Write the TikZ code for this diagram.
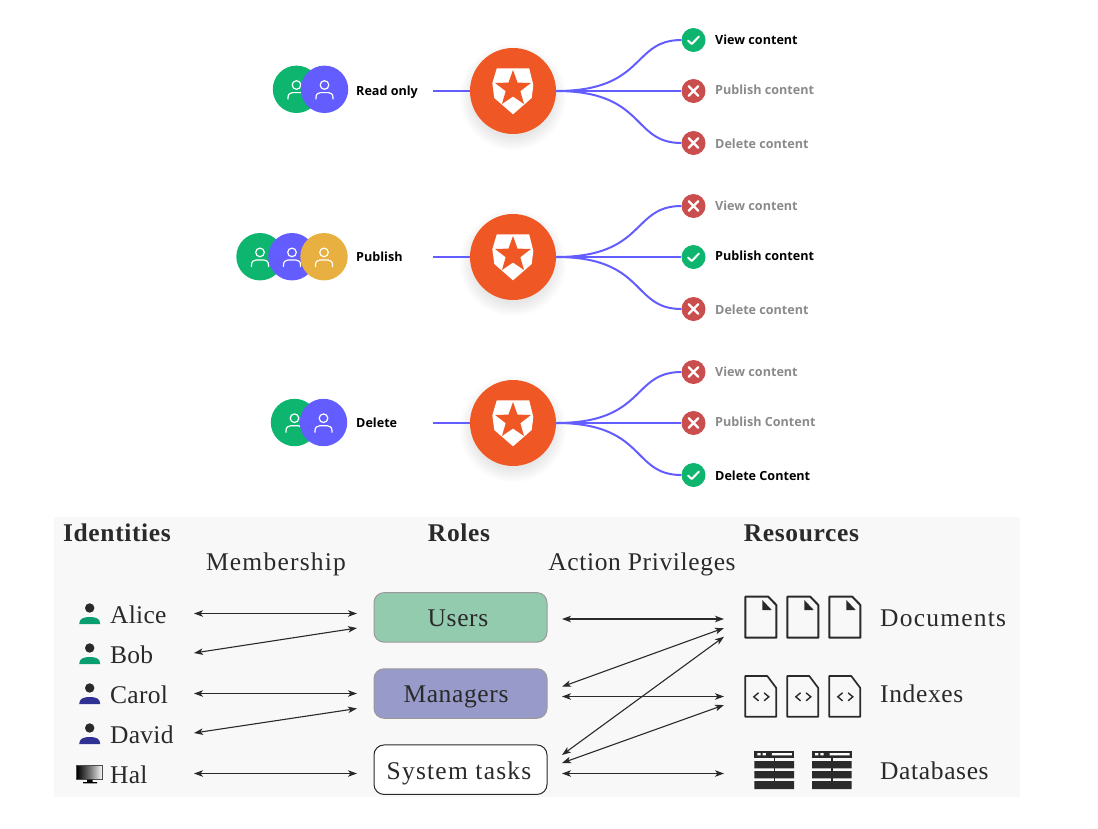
\documentclass[tikz,border=0pt]{standalone}
\usepackage{fontspec}
\usetikzlibrary{shapes.geometric,arrows.meta,shadings}
\newfontfamily\uifont{Open Sans}
\newfontfamily\serifA[LetterSpace=2.5]{Liberation Serif}
\newfontfamily\serifB[LetterSpace=4.8]{Liberation Serif}
\newfontfamily\serifC[LetterSpace=1]{Liberation Serif}
\definecolor{ogreen}{HTML}{0DB56F}
\definecolor{opurple}{HTML}{635DFF}
\definecolor{oorange}{HTML}{EF5725}
\definecolor{oyellow}{HTML}{E8B040}
\definecolor{ored}{HTML}{CB4E4E}
\definecolor{ogrey}{HTML}{8A8A8A}
\definecolor{panel}{HTML}{F8F8F8}
\definecolor{teal}{HTML}{089E70}
\definecolor{dblue}{HTML}{2E3192}
\definecolor{ink}{HTML}{2A2A2A}
\definecolor{usersfill}{HTML}{93CBAE}
\definecolor{mgrfill}{HTML}{989BC9}
\tikzset{
  avatar/.style={circle,inner sep=0pt,minimum size=47.4pt,fill=#1},
  hub/.style={circle,inner sep=0pt,minimum size=86pt,fill=oorange},
  flow/.style={draw=opurple,line width=2pt},
  mark/.style={circle,inner sep=0pt,minimum size=24pt,fill=#1},
  ontext/.style={anchor=base west,inner sep=0pt,font=\uifont\bfseries\fontsize{12.6}{15}\selectfont,text=black},
  offtext/.style={anchor=base west,inner sep=0pt,font=\uifont\bfseries\fontsize{12.6}{15}\selectfont,text=ogrey},
  sertext/.style={anchor=base,inner sep=0pt,font=\serifA\fontsize{25.5}{30}\selectfont,text=ink},
  wsertext/.style={sertext,font=\serifB\fontsize{25.5}{30}\selectfont},
  nsertext/.style={sertext,font=\serifC\fontsize{25.5}{30}\selectfont},
  hdtext/.style={anchor=base,inner sep=0pt,font=\serifA\bfseries\fontsize{25.5}{30}\selectfont,text=ink},
  rolebox/.style={draw=#1,rounded corners=10pt,line width=1pt,minimum width=173pt,minimum height=49.5pt,inner sep=0pt},
  link/.style={draw=ink,line width=1.1pt,{Stealth[length=9pt,width=6.5pt,inset=2.4pt]}-{Stealth[length=9pt,width=6.5pt,inset=2.4pt]}},
  pics/usericon/.style={code={
    \draw[white,line width=1.2pt] (0,-4.3) circle (4.3);
    \draw[white,line width=1.2pt,line cap=round] (-8.5,9.7) -- (-8.5,8.2) .. controls (-8.5,5) and (-6.5,3.3) .. (-4,3.3) -- (4,3.3) .. controls (6.5,3.3) and (8.5,5) .. (8.5,8.2) -- (8.5,9.7);
  }},
  pics/yesmark/.style={code={
    \draw[white,line width=2pt,line cap=round,line join=round] (-5.5,0.5) -- (-1.8,4) -- (5.5,-3.5);
  }},
  pics/nomark/.style={code={
    \draw[white,line width=2.4pt,line cap=round] (-4.8,-4.8) -- (4.8,4.8) (-4.8,4.8) -- (4.8,-4.8);
  }},
  pics/shield/.style={code={
    \fill[white] (-16.2,-22.2) -- (16.2,-22.2) -- (20.3,-5.5) -- (18.7,7.5) -- (0,23.8) -- (-18.7,7.5) -- (-20.7,-7.2) -- cycle;
    \node[star,star points=5,star point ratio=2.45,fill=oorange,inner sep=0pt,minimum size=37.6pt] at (0,-1.7) {};
  }},
  pics/person/.style={code={
    \fill[ink] (0,-7) circle (4.7);
    \fill[#1] (-10.5,9) .. controls (-10.5,3.5) and (-6,2) .. (0,2) .. controls (6,2) and (10.5,3.5) .. (10.5,9) -- cycle;
  }},
  pics/doca/.style={code={
    \draw[ink,line width=2pt,line join=round] (0,0) -- (23,0) -- (31,8.3) -- (31,41) -- (0,41) -- cycle;
    \fill[ink] (17,3.3) -- (17,13.3) -- (26.4,13.3) -- cycle;
  }},
  pics/docb/.style={code={
    \draw[ink,line width=1.7pt,line join=round] (0,0) -- (22,0) -- (31,12) -- (31,40.7) -- (0,40.7) -- cycle;
    \draw[ink,line width=1.4pt,line cap=round] (13,17) -- (8.5,20.8) -- (13,24.6) (19,17) -- (23.5,20.8) -- (19,24.6);
  }},
  pics/dbicon/.style={code={
    \fill[ink] (0,0) rectangle (39.7,6.8);
    \fill[white] (3,2) rectangle (6.3,4.4) (8.3,2) rectangle (11.6,4.4) (17.5,2) rectangle (37.5,4.4);
    \fill[ink] (0,10) rectangle (39.7,17.3) (0,20) rectangle (39.7,27.3) (0,30) rectangle (39.7,38);
    \fill[ink] (19.2,6) rectangle (20.5,31);
  }},
}
\begin{document}
\begin{tikzpicture}[x=1pt,y=-1pt]
\useasboundingbox (0,0) rectangle (1098,828);

% --- upper part: three role rows
\foreach \r/\cy in {1/91,2/257,3/423}{
  \coordinate (start\r) at (433,\cy);
  \foreach \k in {1,...,12}{
    \fill[black,opacity=0.009] (513,\cy+6) circle ({39+\k*1.2});
  }
  \node[hub] (hub\r) at (513,\cy) {};
  \draw[flow] (start\r) -- (hub\r.west);
  \path (513,\cy-0.5) pic {shield};
}

% row 1 avatars
\node[avatar=ogreen] (a1) at (296.5,89.3) {};
\path (a1.center) pic {usericon};
\node[avatar=opurple] (b1) at (324.5,89.3) {};
\path (b1.center) pic {usericon};
\node[ontext] (lab1) at (356,95) {Read only};
% row 2 avatars
\node[avatar=ogreen] (a2) at (260,256.7) {};
\path (a2.center) pic {usericon};
\node[avatar=opurple] (b2) at (292,256.7) {};
\path (b2.center) pic {usericon};
\node[avatar=oyellow] (c2) at (324,256.7) {};
\path (c2.center) pic {usericon};
\node[ontext] (lab2) at (356,261) {Publish};
% row 3 avatars
\node[avatar=ogreen] (a3) at (294.5,422.5) {};
\path (a3.center) pic {usericon};
\node[avatar=opurple] (b3) at (323.5,422.5) {};
\path (b3.center) pic {usericon};
\node[ontext] (lab3) at (356,427) {Delete};

% outcome marks
\foreach \id/\y/\ty/\col/\pc/\sty/\txt in {
 m11/40/44/ogreen/yesmark/ontext/View content,
 m12/91/94/ored/nomark/offtext/Publish content,
 m13/143/148/ored/nomark/offtext/Delete content,
 m21/206/210/ored/nomark/offtext/View content,
 m22/257/260/ogreen/yesmark/ontext/Publish content,
 m23/309/314/ored/nomark/offtext/Delete content,
 m31/372/376/ored/nomark/offtext/View content,
 m32/423/426/ored/nomark/offtext/Publish Content,
 m33/475/480/ogreen/yesmark/ontext/Delete Content}{
  \node[mark=\col] (\id) at (693.5,\y) {};
  \path (\id.center) pic {\pc};
  \node[\sty] (\id t) at (715,\ty) {\txt};
}
\foreach \r in {1,2,3}{
  \draw[flow] (hub\r.east) .. controls +(90,0) and +(-50,0) .. (m\r1.west);
  \draw[flow] (hub\r.east) -- (m\r2.west);
  \draw[flow] (hub\r.east) .. controls +(90,0) and +(-50,0) .. (m\r3.west);
}

% --- lower part
\fill[panel] (54,517) rectangle (1020,797);
\node[hdtext] (hid) at (117,541) {Identities};
\node[hdtext] (hro) at (459,541) {Roles};
\node[hdtext] (hre) at (801.5,541) {Resources};
\node[wsertext] (lmem) at (276,570) {Membership};
\node[sertext] (lact) at (642,570) {Action Privileges};

% identities
\foreach \id/\y/\col/\txt in {alice/615/teal/Alice,bob/655/teal/Bob,carol/695/dblue/Carol,david/735/dblue/David}{
  \path (89.7,\y) pic {person=\col};
  \node[nsertext,anchor=base west] (\id) at (110,\y+8.3) {\txt};
}
\shade[left color=black,right color=white,middle color=black!55] (76.7,765.7) rectangle (102.7,779.7);
\draw[black!70,line width=0.6pt] (76.7,765.7) rectangle (102.7,779.7);
\fill[black] (87,779.7) rectangle (92.5,782) (83,782) rectangle (97,783.3);
\node[nsertext,anchor=base west] (hal) at (110,783.3) {Hal};

% membership anchors
\coordinate (ma) at (194,613.5); \coordinate (mb) at (194,653);
\coordinate (mc) at (194,693.5); \coordinate (md) at (194,733);
\coordinate (mh) at (194,773.5);
\coordinate (ua) at (357,613.5); \coordinate (ub) at (357,628);
\coordinate (ga) at (357,693.5); \coordinate (gb) at (357,708.5);
\coordinate (sa) at (357,773.5);
\draw[link] (ma) -- (ua);
\draw[link] (mb) -- (ub);
\draw[link] (mc) -- (ga);
\draw[link] (md) -- (gb);
\draw[link] (mh) -- (sa);

% roles
\node[rolebox=black!40,fill=usersfill] (users) at (460.5,617.4) {};
\node[sertext] (usersl) at (458,626) {Users};
\node[rolebox=black!40,fill=mgrfill] (mgrs) at (460.5,693.5) {};
\node[sertext] (mgrsl) at (456,702) {Managers};
\node[rolebox=ink,fill=white] (syst) at (460.5,769.7) {};
\node[wsertext] (systl) at (459,779) {System tasks};

% privilege anchors
\coordinate (r1) at (562,619); \coordinate (r2) at (562,686.7);
\coordinate (r3) at (562,696.5); \coordinate (r4) at (562,755);
\coordinate (r5) at (562,763); \coordinate (r6) at (562,773.5);
\coordinate (d1) at (724,619); \coordinate (d2) at (724,628);
\coordinate (d3) at (724,636.7); \coordinate (i1) at (724,696.5);
\coordinate (i2) at (724,705); \coordinate (b1x) at (724,773.5);
\draw[link] (r1) -- (d1);
\draw[link] (r2) -- (d2);
\draw[link] (r3) -- (i1);
\draw[link] (r4) -- (d3);
\draw[link] (r5) -- (i2);
\draw[link] (r6) -- (b1x);

% resources
\foreach \x in {745.3,787.3,829.3}{
  \path (\x,596.7) pic {doca};
  \path (\x,676) pic {docb};
}
\path (754.3,751) pic {dbicon};
\path (812,751) pic {dbicon};
\node[wsertext,anchor=base west] (rdoc) at (880,626) {Documents};
\node[sertext,anchor=base west] (ridx) at (880,702.7) {Indexes};
\node[sertext,anchor=base west] (rdb) at (880,779) {Databases};
\end{tikzpicture}
\end{document}
